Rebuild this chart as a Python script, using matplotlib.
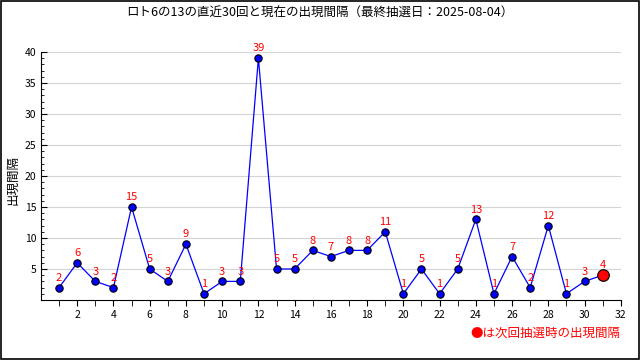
import matplotlib
matplotlib.use('Agg')
import matplotlib.pyplot as plt
from matplotlib.patches import Rectangle

plt.rcParams['font.family'] = ['Noto Sans CJK JP', 'DejaVu Sans']

# 直近30回の出現間隔 + 現在（31回目）
draws = list(range(1, 32))
intervals = [2, 6, 3, 2, 15, 5, 3, 9, 1, 3, 3, 39, 5, 5, 8, 7, 8, 8, 11, 1,
             5, 1, 5, 13, 1, 7, 2, 12, 1, 3, 4]

title = 'ロト6の13の直近30回と現在の出現間隔（最終抽選日：2025-08-04）'

fig = plt.figure(figsize=(6.4, 3.6), dpi=100)
ax = fig.add_axes([0.064, 0.1667, 0.906, 0.689])

ax.plot(draws, intervals, color='#0000ff', lw=0.9, zorder=2)
ax.scatter(draws[:-1], intervals[:-1], s=28, color='#0000ff',
           edgecolors='black', linewidths=0.8, zorder=3)
ax.scatter(draws[-1:], intervals[-1:], s=70, color='#ff0000',
           edgecolors='black', linewidths=0.8, zorder=3)

for x, y in zip(draws, intervals):
    ax.annotate(str(y), (x, y), xytext=(0, 3.5), textcoords='offset points',
                ha='center', va='bottom', color='#ff0000', fontsize=8)

ax.set_xlim(0, 32)
ax.set_ylim(0, 40)
ax.set_xticks(range(2, 33, 2))
ax.set_xticks(range(1, 33), minor=True)
ax.set_yticks(range(5, 41, 5))
ax.set_yticks(range(1, 41), minor=True)
ax.tick_params(axis='x', which='both', direction='out', length=4, labelsize=7.5)
ax.tick_params(axis='y', which='major', direction='in', length=4, labelsize=7.5)
ax.tick_params(axis='y', which='minor', direction='in', length=2)
ax.yaxis.grid(True, which='major', color='#d4d4d4', lw=0.8)
ax.set_axisbelow(True)
for s in ['top', 'right']:
    ax.spines[s].set_visible(False)

fig.text(0.02, 0.5, '出現間隔', rotation=90, ha='center', va='center', fontsize=9)
fig.text(0.5, 0.962, title, ha='center', va='center', fontsize=9)
fig.text(0.97, 0.075, '●は次回抽選時の出現間隔', ha='right', va='center',
         color='#ff0000', fontsize=9)

fig.patches.append(Rectangle((0.001, 0.002), 0.997, 0.995, transform=fig.transFigure,
                             fill=False, edgecolor='black', lw=1.2))

fig.savefig('out.png', dpi=100)
